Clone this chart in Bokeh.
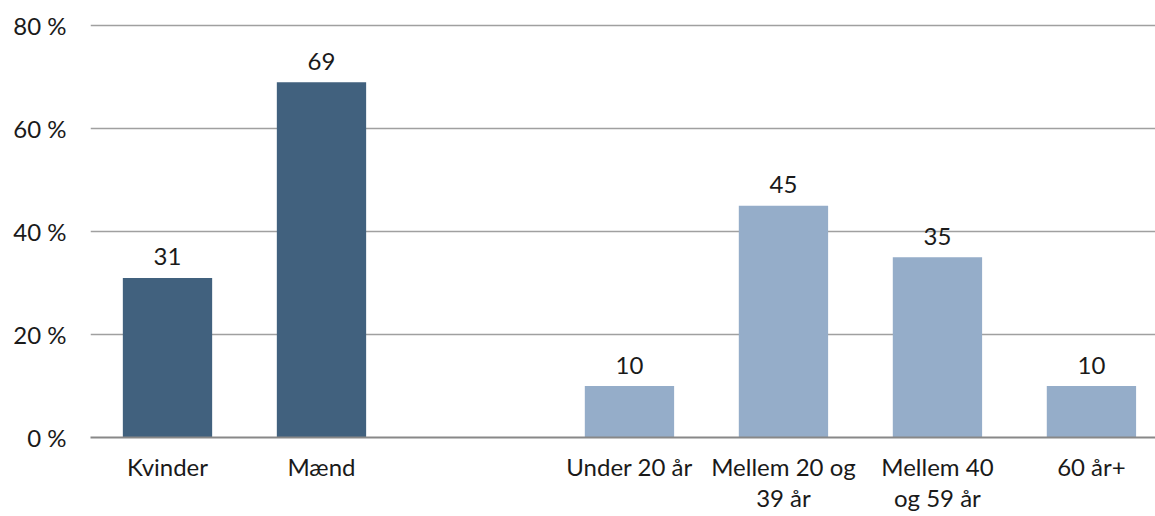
from bokeh.plotting import figure
from bokeh.models import Range1d, FixedTicker, PrintfTickFormatter, ColumnDataSource
from bokeh.embed import file_html
from bokeh.resources import INLINE
from bokeh.core.properties import value

gender_labels = ["Kvinder", "Mænd"]
gender_values = [31, 69]
age_labels = ["Under 20 år", "Mellem 20 og\n39 år", "Mellem 40\nog 59 år", "60 år+"]
age_values = [10, 45, 35, 10]
y_ticks = [0, 20, 40, 60, 80]

FONT = "Lato"
TXT = "#1a1a1a"
FS = "24px"

gender_x = list(range(len(gender_labels)))
age_x = [len(gender_labels) + 1 + i for i in range(len(age_labels))]

p = figure(width=1155, height=516, output_backend="svg", toolbar_location=None,
           x_range=Range1d(-0.5, 6.416), y_range=Range1d(0, 81),
           min_border_left=90, min_border_right=0, min_border_top=20, min_border_bottom=79)
p.outline_line_color = None
p.background_fill_color = "white"

src_g = ColumnDataSource(dict(x=gender_x, top=gender_values, lab=[str(v) for v in gender_values]))
src_a = ColumnDataSource(dict(x=age_x, top=age_values, lab=[str(v) for v in age_values]))

p.vbar(x="x", top="top", bottom=0, width=0.58, source=src_g, color="#41617E", line_color=None)
p.vbar(x="x", top="top", bottom=0, width=0.58, source=src_a, color="#95ADC9", line_color=None)

for s in (src_g, src_a):
    p.text(x="x", y="top", text="lab", source=s, text_align="center", text_baseline="middle",
           y_offset=-21, text_font=value(FONT), text_font_size=FS, text_color=TXT)

# x axis
p.xaxis.ticker = FixedTicker(ticks=gender_x + age_x)
p.xaxis.major_label_overrides = {x: l for x, l in zip(gender_x + age_x, gender_labels + age_labels)}
p.xaxis.major_tick_line_color = None
p.xaxis.minor_tick_line_color = None
p.xaxis.major_tick_out = 0
p.xaxis.major_tick_in = 0
p.xaxis.axis_line_color = "#888888"
p.xaxis.axis_line_width = 2
p.xaxis.major_label_text_font = FONT
p.xaxis.major_label_text_font_size = FS
p.xaxis.major_label_text_color = TXT
p.xaxis.major_label_standoff = 14
p.xaxis.major_label_text_line_height = 1.1

# y axis
p.yaxis.ticker = FixedTicker(ticks=y_ticks)
p.yaxis.formatter = PrintfTickFormatter(format="%d %%")
p.yaxis.major_tick_line_color = None
p.yaxis.minor_tick_line_color = None
p.yaxis.major_tick_out = 0
p.yaxis.major_tick_in = 0
p.yaxis.axis_line_color = None
p.yaxis.major_label_text_font = FONT
p.yaxis.major_label_text_font_size = FS
p.yaxis.major_label_text_color = TXT
p.yaxis.major_label_standoff = 24

p.xgrid.grid_line_color = None
p.ygrid.ticker = FixedTicker(ticks=y_ticks)
p.ygrid.grid_line_color = "#a0a0a0"
p.ygrid.grid_line_width = 1.5

open("out.html", "w").write(file_html(p, INLINE))
